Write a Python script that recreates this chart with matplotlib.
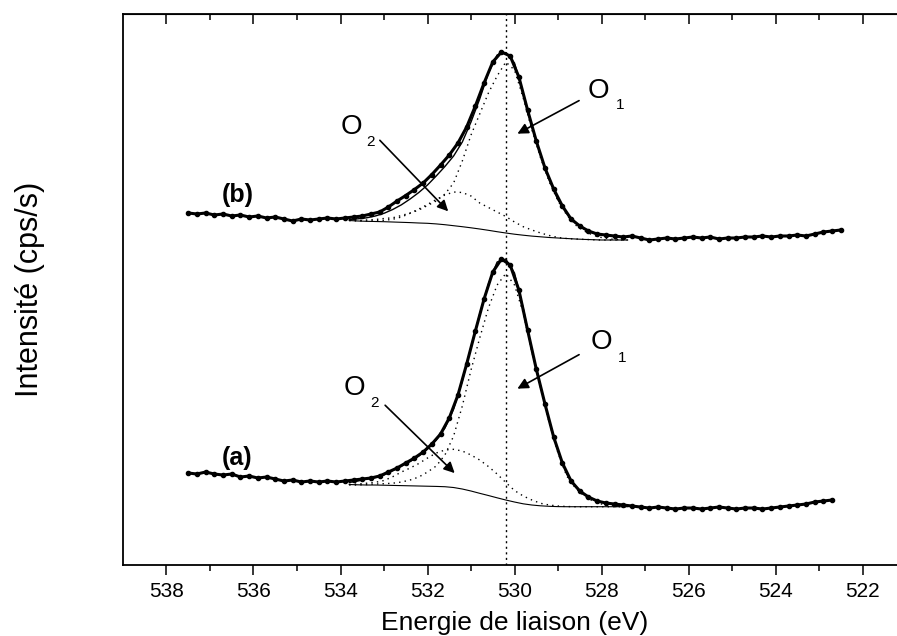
import matplotlib
matplotlib.use("Agg")
import matplotlib.pyplot as plt

plt.rcParams["font.family"] = ["Liberation Sans", "DejaVu Sans"]

# Energies (eV) of the measured points
E_data = [537.5, 537.3, 537.1, 536.9, 536.7, 536.5, 536.3, 536.1, 535.9, 535.7,
          535.5, 535.3, 535.1, 534.9, 534.7, 534.5, 534.3, 534.1, 533.9, 533.7,
          533.5, 533.3, 533.1, 532.9, 532.7, 532.5, 532.3, 532.1, 531.9, 531.7,
          531.5, 531.3, 531.1, 530.9, 530.7, 530.5, 530.3, 530.1, 529.9, 529.7,
          529.5, 529.3, 529.1, 528.9, 528.7, 528.5, 528.3, 528.1, 527.9, 527.7,
          527.5, 527.3, 527.1, 526.9, 526.7, 526.5, 526.3, 526.1, 525.9, 525.7,
          525.5, 525.3, 525.1, 524.9, 524.7, 524.5, 524.3, 524.1, 523.9, 523.7,
          523.5, 523.3, 523.1, 522.9, 522.7, 522.5]

# spectre (b), décalé vers le haut
I_b = [352, 351, 352, 350, 351, 349, 350, 348, 349, 347,
       348, 346, 344, 346, 345, 346, 347, 346, 347, 348,
       349, 351, 353, 358, 364, 369.5, 375.5, 382, 390.5, 400,
       410, 422, 438, 459, 482, 503, 513, 509, 488, 455,
       424, 397, 376, 359, 346, 339, 334, 331, 330, 329,
       328, 329, 327, 325, 326, 327, 326, 327, 328, 327,
       328, 326, 327, 327, 328, 328, 329, 328, 329, 329,
       330, 329, 331, 333, 334, 335]

# spectre (a)
I_a = [92, 91, 93, 91, 90, 91, 88, 89, 87, 88,
       86, 84, 85, 83, 84, 83, 84, 83, 84, 85,
       86, 87, 89, 93, 97, 102, 107, 113, 121, 131,
       147, 170, 201, 234, 266, 293, 306, 300, 275, 235,
       196, 161, 128, 102, 84, 74, 68, 64, 62, 61,
       60, 59, 58, 57, 58, 57, 56, 57, 57, 56,
       57, 58, 57, 56, 57, 57, 56, 57, 58, 59,
       60, 61, 63, 64, 65]

# Energies of the fitted curves
E_fit = [533.8, 533.6, 533.4, 533.2, 533.0, 532.8, 532.6, 532.4, 532.2, 532.0,
         531.8, 531.6, 531.4, 531.2, 531.0, 530.8, 530.6, 530.4, 530.2, 530.0,
         529.8, 529.6, 529.4, 529.2, 529.0, 528.8, 528.6, 528.4, 528.2, 528.0,
         527.8, 527.6, 527.4]

env_b = [345.5, 346.2, 347.2, 349, 351.7, 355.5, 360.2, 366, 372.5, 380,
         389, 398.5, 409, 423, 443, 466, 492, 510, 512.5, 502,
         471.7, 438.3, 410, 385, 365, 351.5, 342, 336, 332, 330,
         329, 328.3, 328]
bg_b = [344.5, 344, 343.7, 343.5, 343.3, 343, 342.7, 342.4, 342, 341.7,
        341.1, 340.3, 339.3, 338.3, 337.2, 336, 334.7, 333.3, 332, 330.8,
        329.8, 328.9, 328.2, 327.5, 327, 326.5, 326, 325.6, 325.3, 325,
        325, 325, 325]
o1_b = [344.5, 344.5, 345, 345.5, 346.5, 347.2, 349.5, 352, 355, 359.5,
        364, 371, 382, 404, 430, 451, 472, 489, 503, 495,
        467, 435, 407, 383, 364, 350, 340, 334, 330, 327.5,
        326, 325.3, 325]
o2_b = [344.5, 344.1, 344, 344.2, 344.7, 345.7, 348, 351.7, 356, 360.5,
        365.5, 370, 373, 372.5, 369, 362, 357.5, 353, 348.5, 343,
        338.3, 335, 332, 329.5, 327.5, 326.5, 326, 325.6, 325.3, 325,
        325, 325, 325]

env_a = [82.5, 84, 86, 87.5, 90, 94.5, 99, 103.5, 109, 116,
         125, 137, 156, 184, 218, 251, 281, 303, 306, 292,
         257, 214, 179, 144, 114, 91, 79, 70.5, 66, 63,
         61.5, 60, 59.5]
bg_a = [80.5, 80.2, 80, 80, 79.8, 79.6, 79.4, 79.2, 79, 78.8,
        78.6, 78.3, 77.5, 76, 74, 71.7, 69.5, 67.2, 65, 63,
        61.2, 60, 59.2, 58.7, 58.4, 58.3, 58.3, 58.3, 58.3, 58.3,
        58.3, 58.3, 58.3]
o1_a = [80, 80, 80.5, 81, 81.3, 81.8, 83, 85, 88, 93,
        99, 110, 129, 159, 195, 227, 257, 280, 291.5, 280,
        252, 213, 177, 142, 112, 89, 77, 69, 64, 61,
        59.5, 58.7, 58.3]
o2_a = [80.7, 81, 81.8, 82.7, 84.5, 88.3, 93, 97, 101.5, 107,
        112, 115, 115.7, 114, 110, 105, 98.5, 91, 82.5, 74.5,
        69, 65, 61.7, 60, 59, 58.5, 58.3, 58.3, 58.3, 58.3,
        58.3, 58.3, 58.3]

E_peak = 530.2
xticks_major = [538, 536, 534, 532, 530, 528, 526, 524, 522]
xticks_minor = [537, 535, 533, 531, 529, 527, 525, 523, 521]

fig = plt.figure(figsize=(8.97, 6.36), dpi=100)
ax = fig.add_axes([0.1371, 0.1116, 0.873, 0.8664])

k = "black"
for E, I in ((E_data, I_b), (E_data[:len(I_a)], I_a)):
    ax.plot(E, I, color=k, lw=2.2, marker="o", ms=3.0, zorder=3)

for env, bg, o1, o2 in ((env_b, bg_b, o1_b, o2_b), (env_a, bg_a, o1_a, o2_a)):
    ax.plot(E_fit, env, color=k, lw=1.0, zorder=2)
    ax.plot(E_fit, bg, color=k, lw=0.8, zorder=2)
    ax.plot(E_fit, o1, color=k, lw=1.0, ls=(0, (1, 3)), zorder=2)
    ax.plot(E_fit, o2, color=k, lw=1.0, ls=(0, (1, 3)), zorder=2)

ax.axvline(E_peak, color=k, lw=1.0, ls=(0, (1.5, 2.5)), zorder=1)

ax.set_xlim(539, 521)
ax.set_ylim(0, 551)
ax.set_xticks(xticks_major)
ax.set_xticks(xticks_minor, minor=True)
ax.set_yticks([])
ax.tick_params(axis="x", which="both", direction="out", top=False, width=1.1,
               labelsize=15)
ax.tick_params(axis="x", which="major", length=7, pad=5)
ax.tick_params(axis="x", which="minor", length=4)
for s in ax.spines.values():
    s.set_linewidth(1.3)

top = ax.secondary_xaxis("top")
top.set_xticks(xticks_major)
top.set_xticks(xticks_minor, minor=True)
top.tick_params(which="both", direction="in", labeltop=False, width=1.1)
top.tick_params(which="major", length=7)
top.tick_params(which="minor", length=4)

ax.set_xlabel("Energie de liaison (eV)", fontsize=19)
ax.xaxis.set_label_coords(0.5, -0.083)
ax.set_ylabel("Intensité (cps/s)", fontsize=22)
ax.yaxis.set_label_coords(-0.1, 0.5)

# labels
ax.text(536.36, 370, "(b)", fontsize=18, fontweight="bold", ha="center", va="center")
ax.text(536.38, 107, "(a)", fontsize=18, fontweight="bold", ha="center", va="center")

arr = dict(arrowstyle="-|>", color=k, lw=1.2, mutation_scale=16)
notes = [
    ("1", 528.06, 474, 527.58, 460, (528.46, 465.7), (529.99, 430)),
    ("2", 533.75, 438.3, 533.32, 423.3, (533.14, 426.7), (531.48, 351.7)),
    ("1", 528.0, 223.3, 527.52, 206.7, (528.46, 211.7), (529.99, 175)),
    ("2", 533.67, 176.7, 533.22, 161.7, (533.02, 161.7), (531.33, 90)),
]
for sub, ex, ey, sx, sy, tail, head in notes:
    ax.text(ex, ey, "O", fontsize=20, ha="center", va="center")
    ax.text(sx, sy, sub, fontsize=11, ha="center", va="center")
    ax.annotate("", xy=head, xytext=tail, arrowprops=arr)

fig.savefig("out.png", dpi=100)
